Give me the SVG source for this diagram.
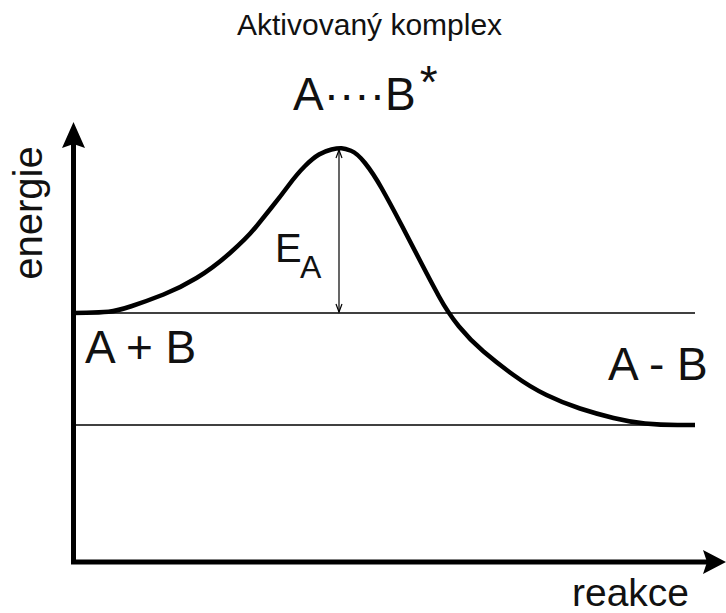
<svg xmlns="http://www.w3.org/2000/svg" width="726" height="613" viewBox="0 0 726 613">
<style>
text{font-family:"Liberation Sans",Arial,sans-serif;fill:#111}
.axis{stroke:#000;stroke-width:5;fill:none}
.thin{stroke:#000;stroke-width:1.4;fill:none}
.curve{stroke:#000;stroke-width:4.5;fill:none;stroke-linejoin:round;stroke-linecap:butt}
.ea{stroke:#000;stroke-width:1.2;fill:none}
</style>
<rect width="726" height="613" fill="#fff"/>
<g id="connectors">
<line class="axis" x1="73.5" y1="142" x2="73.5" y2="564"/>
<polygon points="73.5,122 62,148 73.5,144 85,148" fill="#000"/>
<line class="axis" x1="71" y1="562" x2="708" y2="562"/>
<polygon points="726,562 703,550 707,562 703,574" fill="#000"/>
<line class="thin" x1="73" y1="313" x2="695" y2="313"/>
<line class="thin" x1="73" y1="425" x2="695" y2="425"/>
<path class="curve" d="M73,313 L86.5,312.75 Q100,312.5 108.5,311.75 Q117,311 132,306 Q147,301 163.5,294.5 Q180,288 196.5,278 Q213,268 230,253 Q247,238 255,228 Q263,218 271.5,207.5 Q280,197 288.5,185.5 Q297,174 305,166 Q313,158 319,154.5 Q325,151 331.5,149.5 Q338,148 341.5,148.25 Q345,148.5 351,150.75 Q357,153 365,163 Q373,173 381.5,188 Q390,203 401.5,225 Q413,247 421.5,263.5 Q430,280 439,296.5 Q448,313 459,326.5 Q470,340 483.5,351.5 Q497,363 513.5,375 Q530,387 546.5,395 Q563,403 580,408.5 Q597,414 613.5,418 Q630,422 645,423.5 Q660,425 677.5,425 L695,425"/>
<line class="ea" x1="339" y1="150" x2="339" y2="312"/>
<polyline class="ea" points="336,158 339,150 342,158"/>
<polyline class="ea" points="336,304 339,312 342,304"/>
</g>
<g id="title"><text x="237" y="35" font-size="30" fill="#222">Aktivovaný komplex</text></g>
<g id="complex"><text x="293" y="110" font-size="46">A····B<tspan dx="4" dy="-12">*</tspan></text></g>
<g id="energie"><text transform="translate(42,213) rotate(-90)" text-anchor="middle" font-size="40">energie</text></g>
<g id="ea-label"><text font-size="40"><tspan x="275" y="262">E</tspan><tspan x="300" y="278" font-size="32">A</tspan></text></g>
<g id="reactants"><text x="85" y="363" font-size="46">A + B</text></g>
<g id="product"><text x="608" y="380" font-size="46">A - B</text></g>
<g id="reakce"><text x="572" y="606" font-size="39">reakce</text></g>
</svg>
